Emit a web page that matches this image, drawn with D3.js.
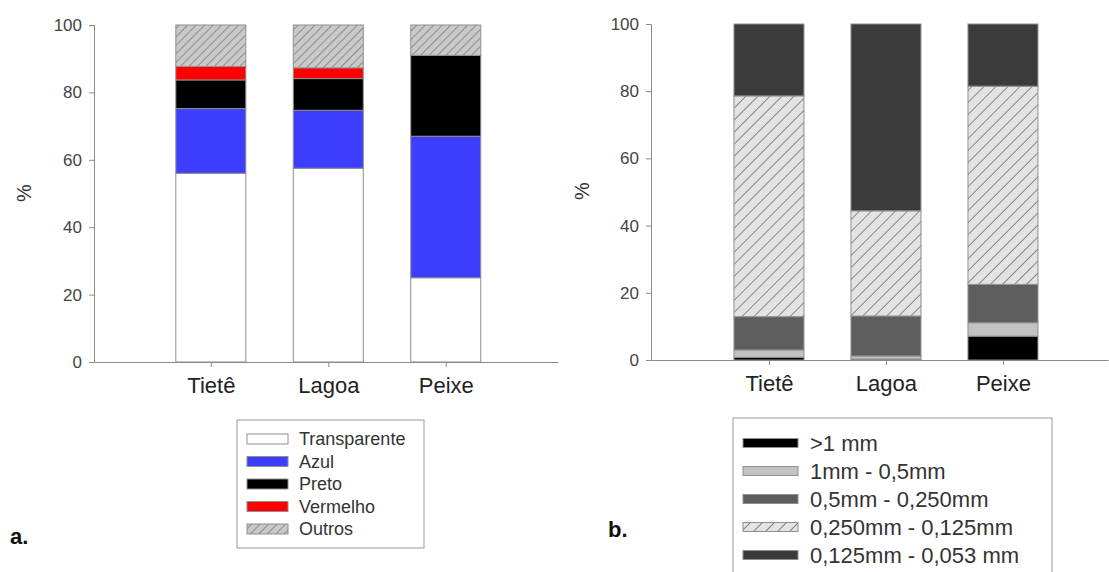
<!DOCTYPE html>
<html>
<head>
<meta charset="utf-8">
<script src="https://cdn.jsdelivr.net/npm/d3@7"></script>
<style>
  body { margin: 0; background: #fff; }
  text { font-family: "Liberation Sans", Arial, sans-serif; }
</style>
</head>
<body>
<div id="chart"></div>
<script>
// data
var sites = ["Tietê", "Lagoa", "Peixe"];
var colorKeys = ["Transparente", "Azul", "Preto", "Vermelho", "Outros"];
var transparente = [56, 57.5, 25];
var azul = [19.2, 17.2, 42];
var preto = [8.5, 9.4, 24];
var vermelho = [4, 3.2, 0];
var outros = [12.3, 12.7, 9];

var sizeKeys = [">1 mm", "1mm - 0,5mm", "0,5mm - 0,250mm", "0,250mm - 0,125mm", "0,125mm - 0,053 mm"];
var gt1mm = [0.8, 0.3, 7.1];
var s1to05 = [2.2, 0.9, 4.0];
var s05to025 = [9.9, 11.9, 11.4];
var s025to0125 = [65.7, 31.3, 59.0];
var s0125to0053 = [21.4, 55.6, 18.5];

var yTicks = [0, 20, 40, 60, 80, 100];

var svgWidth = 1109, svgHeight = 572;
var axisColor = "#8a8a8a";

var svg = d3.select("#chart").append("svg")
  .attr("width", svgWidth)
  .attr("height", svgHeight);

var defs = svg.append("defs");

function hatch(id, size, bg, fg, w) {
  var p = defs.append("pattern")
    .attr("id", id)
    .attr("patternUnits", "userSpaceOnUse")
    .attr("width", size).attr("height", size)
    .attr("patternTransform", "rotate(45)");
  p.append("rect").attr("width", size).attr("height", size).attr("fill", bg);
  p.append("line").attr("x1", 0).attr("y1", 0).attr("x2", 0).attr("y2", size)
    .attr("stroke", fg).attr("stroke-width", w);
}
hatch("hatchA", 6, "#c9c9c9", "#6c6c6c", 1.3);
hatch("hatchB", 8.5, "#e3e3e3", "#555", 1.3);

function rows(keys, series) {
  return sites.map(function(s, i) {
    var r = { site: s };
    keys.forEach(function(k, j) { r[k] = series[j][i]; });
    return r;
  });
}

function drawPanel(cfg) {
  var x = d3.scalePoint().domain(sites).range(cfg.xRange).padding(cfg.pad).align(cfg.align);
  var y = d3.scaleLinear().domain([0, 100]).range(cfg.yRange);

  var g = svg.append("g");

  var stacked = d3.stack().keys(cfg.keys)(rows(cfg.keys, cfg.series));
  var color = d3.scaleOrdinal().domain(cfg.keys).range(cfg.fills);

  g.selectAll("g.layer")
    .data(stacked)
    .enter().append("g")
    .attr("class", "layer")
    .attr("fill", function(d) { return color(d.key); })
    .selectAll("rect")
    .data(function(d) { return d; })
    .enter().append("rect")
    .attr("x", function(d) { return x(d.data.site) - cfg.barW / 2; })
    .attr("width", cfg.barW)
    .attr("y", function(d) { return y(d[1]); })
    .attr("height", function(d) { return y(d[0]) - y(d[1]); })
    .attr("stroke", "#8f8f8f")
    .attr("stroke-width", function(d) { return d[1] - d[0] > 0 ? 1 : 0; });

  // y axis
  var yAxis = g.append("g")
    .attr("transform", "translate(" + cfg.xRange[0] + ",0)")
    .call(d3.axisLeft(y).tickValues(yTicks).tickSize(5).tickPadding(7));
  yAxis.selectAll("text").attr("font-size", 17).attr("fill", "#444")
    .style("font-family", "Liberation Sans, Arial, sans-serif");

  // x axis
  var xAxis = g.append("g")
    .attr("transform", "translate(0," + cfg.yRange[0] + ")")
    .call(d3.axisBottom(x).tickSize(5).tickPadding(10).tickSizeOuter(0));
  xAxis.selectAll("text").attr("font-size", 22).attr("fill", "#222")
    .style("font-family", "Liberation Sans, Arial, sans-serif");

  [yAxis, xAxis].forEach(function(a) {
    a.select(".domain").attr("stroke", axisColor);
    a.selectAll(".tick line").attr("stroke", axisColor);
  });

  // y label
  g.append("text")
    .attr("transform", "translate(" + cfg.yLabel[0] + "," + cfg.yLabel[1] + ") rotate(-90)")
    .attr("text-anchor", "middle")
    .attr("dominant-baseline", "central")
    .attr("font-size", 20)
    .attr("fill", "#333")
    .text("%");

  // panel letter
  g.append("text")
    .attr("x", cfg.letter[0]).attr("y", cfg.letter[1])
    .attr("font-size", 22).attr("font-weight", "bold").attr("fill", "#111")
    .text(cfg.letterText);

  // legend
  var L = cfg.legend;
  var lg = g.append("g");
  lg.append("rect")
    .attr("x", L.box[0]).attr("y", L.box[1]).attr("width", L.box[2]).attr("height", L.box[3])
    .attr("fill", "#fff").attr("stroke", "#999");
  var item = lg.selectAll("g.item")
    .data(cfg.keys)
    .enter().append("g")
    .attr("class", "item")
    .attr("transform", function(d, i) { return "translate(0," + (L.y0 + i * L.dy) + ")"; });
  item.append("rect")
    .attr("x", L.sx).attr("y", -L.sh / 2).attr("width", L.sw).attr("height", L.sh)
    .attr("fill", function(d) { return color(d); })
    .attr("stroke", "#8f8f8f");
  item.append("text")
    .attr("x", L.tx).attr("dy", "0.35em")
    .attr("font-size", L.fs).attr("fill", "#333")
    .text(function(d) { return d; });
}

drawPanel({
  keys: colorKeys,
  series: [transparente, azul, preto, vermelho, outros],
  fills: ["#ffffff", "#3d3dfd", "#000000", "#ff0000", "url(#hatchA)"],
  xRange: [94, 558], yRange: [362, 25], pad: 0.975, align: 0.51, barW: 70,
  yLabel: [24, 193], letter: [10, 544], letterText: "a.",
  legend: { box: [237, 420, 187, 128], y0: 439, dy: 22.5, sx: 247, sw: 41, sh: 10, tx: 299, fs: 18 }
});

drawPanel({
  keys: sizeKeys,
  series: [gt1mm, s1to05, s05to025, s025to0125, s0125to0053],
  fills: ["#000000", "#c2c2c2", "#5e5e5e", "url(#hatchB)", "#3b3b3b"],
  xRange: [651, 1108], yRange: [360, 24], pad: 0.953, align: 0.529, barW: 70,
  yLabel: [582, 191], letter: [608, 537], letterText: "b.",
  legend: { box: [733, 418, 319, 170], y0: 443, dy: 28, sx: 743, sw: 55, sh: 9, tx: 810, fs: 22 }
});
</script>
</body>
</html>
